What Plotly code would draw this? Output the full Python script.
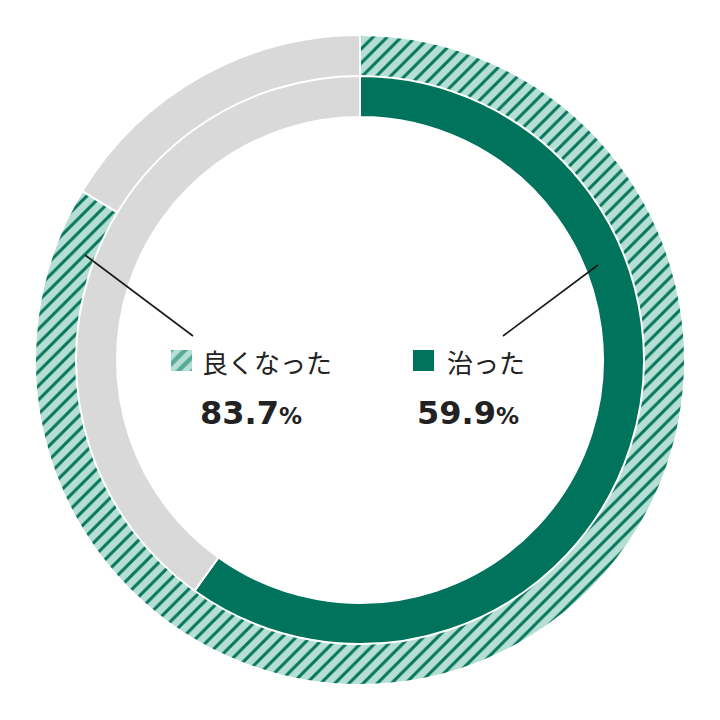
import plotly.graph_objects as go

# data
labels = ["良くなった", "治った"]
improved = [83.7, 100 - 83.7]
cured = [59.9, 100 - 59.9]

DARK = "#00735c"
LIGHT = "#b5dfd5"
STRIPE = "#08765c"
GRAY = "#d9d9d9"
W = H = 720


def px(x):
    return x / W


def py(y):
    return 1 - y / H


fig = go.Figure()

# outer ring: 良くなった (hatched)
r_out = 325
fig.add_trace(go.Pie(
    values=improved,
    sort=False,
    direction="clockwise",
    rotation=0,
    hole=283 / r_out,
    domain=dict(x=[px(360 - r_out), px(360 + r_out)], y=[py(360 + r_out), py(360 - r_out)]),
    marker=dict(
        colors=[LIGHT, GRAY],
        pattern=dict(shape=["/", ""], fgcolor=STRIPE, bgcolor=[LIGHT, GRAY],
                     size=10, solidity=0.3),
        line=dict(color="white", width=2),
    ),
    textinfo="none",
    hoverinfo="skip",
    showlegend=False,
))

# inner ring: 治った (solid)
r_in = 284
fig.add_trace(go.Pie(
    values=cured,
    sort=False,
    direction="clockwise",
    rotation=0,
    hole=243 / r_in,
    domain=dict(x=[px(360 - r_in), px(360 + r_in)], y=[py(360 + r_in), py(360 - r_in)]),
    marker=dict(colors=[DARK, GRAY], line=dict(color="white", width=2)),
    textinfo="none",
    hoverinfo="skip",
    showlegend=False,
))

# hatched legend square
fig.add_trace(go.Bar(
    x=[0], y=[1], width=1,
    marker=dict(color=LIGHT, line_width=0,
                pattern=dict(shape="/", fgcolor=DARK, bgcolor=LIGHT, size=10, solidity=0.45)),
    hoverinfo="skip", showlegend=False,
))
fig.update_xaxes(domain=[px(171), px(192)], range=[-0.5, 0.5], visible=False, fixedrange=True)
fig.update_yaxes(domain=[py(371), py(350)], range=[0, 1], visible=False, fixedrange=True)

# solid legend square
fig.add_shape(type="rect", xref="paper", yref="paper",
              x0=px(413), x1=px(434), y0=py(371), y1=py(350),
              fillcolor=DARK, line_width=0)

# leader lines
fig.add_shape(type="line", xref="paper", yref="paper",
              x0=px(85), y0=py(255), x1=px(193), y1=py(336),
              line=dict(color="#1a1a1a", width=1.6))
fig.add_shape(type="line", xref="paper", yref="paper",
              x0=px(598), y0=py(265), x1=px(503), y1=py(336),
              line=dict(color="#1a1a1a", width=1.6))

jp = dict(family="Noto Sans CJK JP", size=26, color="#222222")
num = dict(family="DejaVu Sans", size=32, color="#222222")

fig.add_annotation(x=px(200), y=py(361), text=labels[0], font=jp,
                   xref="paper", yref="paper", xanchor="left", yanchor="middle", showarrow=False)
fig.add_annotation(x=px(445), y=py(361), text=labels[1], font=jp,
                   xref="paper", yref="paper", xanchor="left", yanchor="middle", showarrow=False)

pct = "<b>{:.1f}<span style='font-size:23px'>%</span></b>"
fig.add_annotation(x=px(198), y=py(413), text=pct.format(improved[0]), font=num,
                   xref="paper", yref="paper", xanchor="left", yanchor="middle", showarrow=False)
fig.add_annotation(x=px(415), y=py(413), text=pct.format(cured[0]), font=num,
                   xref="paper", yref="paper", xanchor="left", yanchor="middle", showarrow=False)

fig.update_layout(
    width=W, height=H,
    margin=dict(l=0, r=0, t=0, b=0),
    paper_bgcolor="white",
    plot_bgcolor="rgba(0,0,0,0)",
    showlegend=False,
)

# drop the default 8px page margin so the figure sits at the window corner
fig.write_html("out.html", config={"displayModeBar": False},
               post_script="document.body.style.margin='0';")
